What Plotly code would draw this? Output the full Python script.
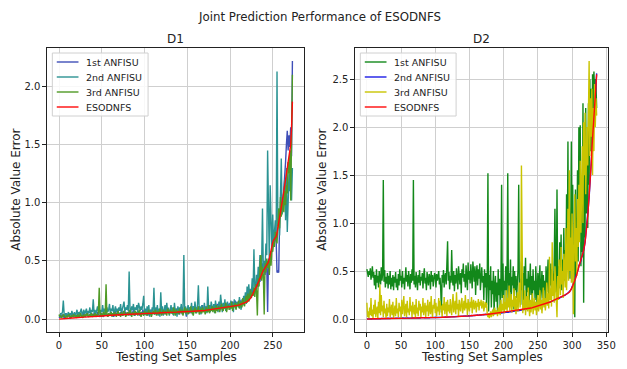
import plotly.graph_objects as go

# ---------------- D1 data (samples 0..273) ----------------
d1_anfisu1 = [
0.02,0.01,0.03,0.02,0.04,0.03,0.01,0.02,0.05,0.03,
0.02,0.04,0.03,0.01,0.02,0.03,0.05,0.02,0.03,0.04,
0.02,0.03,0.05,0.03,0.02,0.04,0.03,0.02,0.05,0.04,
0.03,0.02,0.04,0.06,0.03,0.02,0.04,0.03,0.05,0.02,
0.03,0.05,0.04,0.02,0.03,0.06,0.04,0.03,0.02,0.04,
0.05,0.03,0.02,0.04,0.06,0.03,0.04,0.02,0.05,0.03,
0.04,0.06,0.03,0.05,0.02,0.04,0.07,0.03,0.05,0.04,
0.03,0.05,0.06,0.04,0.03,0.07,0.05,0.04,0.06,0.03,
0.05,0.04,0.07,0.03,0.06,0.04,0.05,0.08,0.04,0.03,
0.06,0.05,0.04,0.07,0.03,0.05,0.06,0.04,0.08,0.05,
0.04,0.06,0.05,0.07,0.03,0.06,0.05,0.08,0.04,0.06,
0.05,0.07,0.04,0.06,0.09,0.05,0.04,0.07,0.06,0.05,
0.08,0.04,0.06,0.05,0.07,0.04,0.09,0.06,0.05,0.07,
0.06,0.10,0.05,0.07,0.04,0.08,0.06,0.09,0.05,0.07,
0.06,0.04,0.08,0.07,0.10,0.05,0.06,0.09,0.07,0.02,
0.08,0.06,0.10,0.05,0.07,0.09,0.06,0.11,0.07,0.08,
0.06,0.10,0.08,0.07,0.11,0.06,0.09,0.08,0.12,0.07,
0.09,0.08,0.11,0.07,0.10,0.09,0.12,0.08,0.10,0.11,
0.09,0.12,0.08,0.11,0.10,0.13,0.09,0.12,0.10,0.11,
0.13,0.09,0.11,0.12,0.10,0.14,0.11,0.12,0.13,0.10,
0.14,0.12,0.11,0.15,0.13,0.12,0.16,0.11,0.14,0.13,
0.15,0.12,0.16,0.14,0.13,0.17,0.15,0.19,0.14,0.18,
0.17,0.20,0.16,0.22,0.19,0.25,0.21,0.27,0.24,0.22,
0.30,0.26,0.33,0.28,0.36,0.32,0.40,0.35,0.48,0.42,
0.45,0.38,0.50,0.46,0.06,0.52,0.47,0.58,0.55,0.62,
0.64,0.70,0.66,0.72,0.68,0.40,0.41,0.40,0.85,0.90,
0.95,1.05,1.00,1.12,1.20,1.35,1.50,1.62,1.45,1.58,
1.48,1.65,1.40,2.22]

d1_anfisu2 = [
0.03,0.02,0.05,0.04,0.06,0.16,0.04,0.02,0.05,0.03,
0.04,0.06,0.02,0.05,0.03,0.07,0.04,0.03,0.06,0.02,
0.05,0.08,0.03,0.06,0.04,0.07,0.09,0.03,0.05,0.08,
0.04,0.06,0.09,0.03,0.07,0.05,0.10,0.04,0.08,0.06,
0.17,0.05,0.08,0.04,0.07,0.11,0.06,0.09,0.04,0.08,
0.06,0.12,0.05,0.09,0.07,0.04,0.10,0.06,0.08,0.13,
0.05,0.09,0.07,0.12,0.04,0.08,0.11,0.06,0.09,0.05,
0.10,0.07,0.13,0.05,0.09,0.11,0.15,0.06,0.10,0.08,
0.12,0.07,0.41,0.09,0.06,0.11,0.08,0.13,0.05,0.10,
0.08,0.12,0.06,0.14,0.09,0.07,0.11,0.08,0.13,0.20,
0.04,0.09,0.03,0.11,0.06,0.12,0.02,0.08,0.05,0.10,
0.07,0.27,0.04,0.10,0.06,0.12,0.03,0.09,0.02,0.23,
0.06,0.11,0.03,0.08,0.12,0.05,0.14,0.07,0.10,0.03,
0.08,0.12,0.05,0.10,0.03,0.14,0.07,0.09,0.02,0.11,
0.06,0.10,0.08,0.13,0.04,0.09,0.55,0.06,0.11,0.03,
0.09,0.12,0.05,0.10,0.07,0.14,0.04,0.11,0.06,0.15,
0.08,0.05,0.13,0.29,0.07,0.11,0.04,0.12,0.08,0.06,
0.14,0.07,0.11,0.05,0.28,0.09,0.12,0.06,0.15,0.10,
0.07,0.13,0.05,0.16,0.10,0.12,0.06,0.15,0.09,0.21,
0.11,0.06,0.14,0.09,0.17,0.07,0.12,0.15,0.10,0.13,
0.08,0.16,0.11,0.14,0.06,0.17,0.12,0.09,0.15,0.13,
0.10,0.19,0.14,0.08,0.17,0.12,0.20,0.15,0.23,0.13,
0.28,0.20,0.30,0.18,0.26,0.22,0.35,0.24,0.60,0.28,
0.25,0.38,0.30,0.45,0.33,0.55,0.36,0.48,0.95,0.40,
0.50,0.42,0.65,0.55,1.45,0.60,0.48,1.15,0.70,0.58,
0.90,0.62,0.75,0.85,0.68,2.13,0.80,0.95,0.72,1.05,
1.38,0.90,1.00,1.10,1.20,0.85,1.30,0.75,1.05,1.25,
1.10,1.45,1.02,1.30]

d1_anfisu3 = [
0.04,0.02,0.03,0.01,0.02,0.04,0.03,0.02,0.01,0.03,
0.02,0.03,0.04,0.02,0.01,0.03,0.02,0.04,0.03,0.02,
0.03,0.01,0.04,0.02,0.03,0.05,0.02,0.03,0.01,0.04,
0.02,0.04,0.03,0.05,0.02,0.03,0.04,0.02,0.05,0.03,
0.04,0.02,0.05,0.03,0.04,0.02,0.06,0.27,0.03,0.05,
0.02,0.04,0.06,0.03,0.05,0.30,0.04,0.02,0.05,0.03,
0.04,0.06,0.02,0.05,0.03,0.06,0.04,0.02,0.05,0.07,
0.03,0.05,0.02,0.06,0.04,0.03,0.07,0.05,0.02,0.04,
0.06,0.03,0.05,0.08,0.04,0.02,0.06,0.05,0.03,0.07,
0.04,0.06,0.03,0.05,0.08,0.04,0.02,0.06,0.05,0.03,
0.07,0.04,0.06,0.03,0.05,0.08,0.04,0.06,0.02,0.05,
0.07,0.04,0.06,0.08,0.03,0.05,0.07,0.04,0.09,0.05,
0.03,0.06,0.08,0.04,0.07,0.05,0.03,0.09,0.06,0.04,
0.08,0.05,0.07,0.04,0.10,0.06,0.03,0.08,0.05,0.07,
0.04,0.09,0.06,0.05,0.08,0.03,0.07,0.10,0.05,0.06,
0.09,0.04,0.07,0.06,0.11,0.05,0.08,0.03,0.07,0.10,
0.05,0.08,0.06,0.11,0.04,0.07,0.09,0.05,0.10,0.06,
0.08,0.04,0.10,0.07,0.06,0.12,0.05,0.09,0.07,0.11,
0.06,0.10,0.08,0.05,0.12,0.07,0.09,0.11,0.06,0.10,
0.13,0.08,0.07,0.11,0.09,0.14,0.06,0.10,0.12,0.08,
0.11,0.09,0.15,0.07,0.12,0.10,0.14,0.08,0.13,0.11,
0.16,0.09,0.12,0.15,0.10,0.18,0.13,0.11,0.17,0.20,
0.14,0.22,0.15,0.19,0.25,0.18,0.23,0.20,0.27,0.19,
0.30,0.24,0.03,0.35,0.28,0.42,0.55,0.33,0.45,0.38,
0.04,0.48,0.40,0.52,0.44,0.50,0.38,0.56,0.46,0.60,
0.58,0.66,0.62,0.75,0.70,0.65,0.80,0.95,0.78,1.05,
0.88,0.95,1.02,0.92,1.10,0.98,1.15,1.08,1.35,1.25,
1.45,1.02,1.75,2.10]

d1_esodnfs = [
0.000,0.001,0.002,0.003,0.004,0.005,0.005,0.006,0.006,0.007,
0.007,0.008,0.008,0.009,0.009,0.010,0.010,0.011,0.011,0.012,
0.012,0.013,0.013,0.014,0.014,0.015,0.015,0.016,0.016,0.017,
0.017,0.018,0.018,0.019,0.019,0.020,0.020,0.021,0.021,0.022,
0.022,0.023,0.023,0.024,0.024,0.025,0.025,0.026,0.026,0.027,
0.027,0.028,0.028,0.029,0.029,0.030,0.030,0.031,0.031,0.032,
0.032,0.033,0.033,0.034,0.034,0.035,0.035,0.036,0.036,0.037,
0.037,0.037,0.038,0.038,0.039,0.039,0.040,0.040,0.040,0.041,
0.041,0.041,0.042,0.042,0.042,0.043,0.043,0.043,0.044,0.044,
0.044,0.045,0.045,0.045,0.046,0.046,0.046,0.047,0.047,0.047,
0.048,0.048,0.048,0.049,0.049,0.049,0.050,0.050,0.050,0.051,
0.051,0.051,0.052,0.052,0.052,0.053,0.053,0.053,0.054,0.054,
0.054,0.055,0.055,0.055,0.056,0.056,0.056,0.057,0.057,0.057,
0.058,0.058,0.058,0.059,0.059,0.059,0.060,0.060,0.060,0.061,
0.061,0.061,0.062,0.062,0.062,0.063,0.063,0.063,0.064,0.064,
0.064,0.065,0.065,0.066,0.066,0.067,0.067,0.068,0.068,0.069,
0.069,0.070,0.070,0.071,0.071,0.072,0.072,0.073,0.073,0.074,
0.074,0.075,0.076,0.076,0.077,0.078,0.079,0.080,0.081,0.082,
0.083,0.084,0.085,0.086,0.087,0.088,0.089,0.090,0.091,0.092,
0.093,0.094,0.095,0.096,0.097,0.098,0.099,0.100,0.102,0.104,
0.106,0.108,0.110,0.111,0.112,0.113,0.114,0.115,0.116,0.118,
0.120,0.122,0.124,0.126,0.128,0.130,0.133,0.136,0.140,0.145,
0.150,0.155,0.160,0.170,0.180,0.190,0.200,0.220,0.240,0.250,
0.260,0.280,0.300,0.310,0.330,0.350,0.370,0.390,0.410,0.420,
0.430,0.440,0.450,0.460,0.470,0.490,0.520,0.560,0.600,0.630,
0.660,0.680,0.690,0.700,0.710,0.740,0.780,0.820,0.860,0.900,
0.950,1.000,1.050,1.100,1.150,1.200,1.260,1.300,1.340,1.380,
1.420,1.500,1.650,1.870]

# ---------------- D2 data (samples 0..336) ----------------
d2_anfisu1 = [
0.52,0.48,0.44,0.50,0.46,0.53,0.41,0.47,0.55,0.43,
0.49,0.35,0.46,0.31,0.52,0.38,0.45,0.33,0.50,0.42,
0.36,0.54,0.40,0.47,1.45,0.39,0.51,0.33,0.44,0.37,
0.48,0.32,0.45,0.36,0.50,0.31,0.43,0.34,0.46,0.30,
0.44,0.38,0.49,0.33,0.42,0.30,0.47,0.35,0.52,0.40,
0.45,0.33,0.50,0.37,0.43,0.31,0.48,0.54,0.39,0.46,
0.34,0.50,0.42,0.31,0.47,0.38,0.52,0.40,1.45,0.36,
0.45,0.33,0.49,0.41,0.30,0.46,0.38,0.51,0.35,0.44,
0.40,0.48,0.32,0.45,0.53,0.37,0.43,0.30,0.49,0.41,
0.35,0.47,0.44,0.31,0.50,0.39,0.46,0.34,0.42,0.48,
0.45,0.33,0.47,0.40,0.44,0.50,0.36,0.43,0.30,0.07,
0.46,0.38,0.51,0.33,0.44,0.48,0.36,0.55,0.81,0.40,
0.49,0.31,0.45,0.38,0.72,0.42,0.35,0.50,0.29,0.46,
0.37,0.53,0.40,0.31,0.55,0.44,0.36,0.48,0.27,0.52,
0.43,0.58,0.39,0.47,0.33,0.56,0.45,0.30,0.59,0.41,
0.50,0.37,0.57,0.44,0.32,0.60,0.46,0.39,0.55,0.25,
0.48,0.56,0.35,0.52,0.42,0.58,0.30,0.47,0.54,0.38,
0.45,0.20,0.52,0.33,0.48,0.15,0.41,1.52,0.08,0.46,
0.30,0.55,0.12,0.40,0.26,0.50,0.05,0.35,0.45,0.18,
0.38,0.08,0.52,0.25,0.42,0.10,0.33,1.40,0.22,0.58,
0.15,0.40,0.30,0.55,0.12,0.45,1.52,0.20,0.48,0.28,
0.62,0.18,0.44,0.35,0.55,0.10,0.50,0.30,0.45,0.22,
0.38,0.52,1.40,0.25,0.42,0.15,0.60,0.30,0.48,0.20,
0.55,0.35,0.64,0.18,0.42,0.28,0.50,0.12,0.38,0.58,
0.25,0.45,0.15,0.52,0.30,0.40,0.20,0.55,0.32,0.10,
0.48,0.25,0.42,0.56,0.18,0.35,0.50,0.22,0.46,0.30,
0.40,0.15,0.55,0.28,0.44,0.62,0.20,0.48,0.35,0.58,
0.25,0.52,0.40,0.30,0.65,1.15,0.45,0.28,1.35,0.38,
0.55,0.32,0.80,0.45,0.88,0.30,0.62,0.50,0.95,0.40,
0.72,0.35,1.30,0.55,1.85,0.60,1.20,0.42,0.90,1.85,
0.50,1.40,0.38,0.80,0.02,1.35,0.45,0.70,1.55,0.60,
2.00,0.90,2.02,0.55,1.45,0.70,2.25,0.17,1.60,0.85,
2.20,1.10,1.80,0.95,2.25,1.40,2.50,1.75,2.40,1.60,
2.55,2.20,2.58,2.35,2.50,2.45,2.20]

d2_anfisu2 = [
0.002,0.001,0.003,0.001,0.004,0.002,0.003,0.001,0.004,0.003,
0.004,0.002,0.005,0.003,0.005,0.003,0.006,0.004,0.005,0.006,
0.004,0.006,0.005,0.007,0.005,0.006,0.008,0.005,0.007,0.006,
0.008,0.006,0.007,0.009,0.006,0.008,0.007,0.009,0.007,0.008,
0.009,0.007,0.010,0.008,0.009,0.007,0.010,0.008,0.009,0.011,
0.008,0.010,0.009,0.011,0.008,0.010,0.012,0.009,0.011,0.010,
0.012,0.009,0.011,0.013,0.010,0.012,0.011,0.013,0.010,0.012,
0.013,0.011,0.014,0.012,0.013,0.011,0.014,0.013,0.012,0.015,
0.013,0.014,0.012,0.015,0.014,0.013,0.016,0.014,0.015,0.013,
0.016,0.015,0.014,0.017,0.015,0.016,0.014,0.017,0.016,0.018,
0.016,0.017,0.019,0.017,0.018,0.016,0.019,0.018,0.020,0.017,
0.020,0.019,0.018,0.021,0.019,0.022,0.020,0.021,0.023,0.021,
0.023,0.021,0.024,0.022,0.025,0.023,0.024,0.026,0.024,0.025,
0.027,0.025,0.028,0.026,0.027,0.029,0.027,0.030,0.028,0.031,
0.029,0.031,0.030,0.032,0.031,0.033,0.031,0.034,0.032,0.035,
0.033,0.036,0.034,0.037,0.035,0.038,0.036,0.039,0.037,0.040,
0.041,0.039,0.042,0.040,0.043,0.042,0.044,0.043,0.046,0.044,
0.047,0.045,0.048,0.047,0.050,0.048,0.051,0.049,0.052,0.051,
0.053,0.052,0.055,0.053,0.056,0.055,0.058,0.056,0.059,0.058,
0.061,0.059,0.062,0.061,0.064,0.062,0.065,0.064,0.067,0.066,
0.068,0.067,0.070,0.069,0.072,0.071,0.074,0.072,0.076,0.075,
0.078,0.077,0.080,0.079,0.082,0.081,0.084,0.083,0.086,0.085,
0.088,0.087,0.090,0.089,0.093,0.091,0.095,0.094,0.097,0.096,
0.100,0.099,0.103,0.102,0.106,0.105,0.109,0.108,0.112,0.114,
0.116,0.115,0.120,0.119,0.124,0.123,0.128,0.127,0.132,0.131,
0.136,0.135,0.140,0.139,0.144,0.143,0.148,0.147,0.152,0.151,
0.156,0.157,0.162,0.161,0.168,0.167,0.174,0.173,0.180,0.179,
0.186,0.185,0.192,0.191,0.198,0.197,0.204,0.203,0.210,0.209,
0.216,0.215,0.222,0.223,0.230,0.229,0.238,0.237,0.246,0.245,
0.254,0.255,0.262,0.264,0.271,0.274,0.282,0.288,0.302,0.313,
0.333,0.343,0.363,0.378,0.403,0.418,0.443,0.458,0.493,0.518,
0.553,0.568,0.593,0.608,0.643,0.658,0.693,0.718,0.753,0.798,
0.863,0.918,1.003,1.078,1.183,1.268,1.383,1.498,1.623,1.768,
1.903,2.028,2.163,2.278,2.403,2.508,2.560]

d2_anfisu3 = [
0.17,0.02,0.08,0.01,0.12,0.04,0.22,0.03,0.10,0.01,
0.15,0.05,0.20,0.02,0.09,0.13,0.01,0.18,0.06,0.36,
0.04,0.25,0.08,0.14,0.02,0.19,0.06,0.11,0.01,0.16,
0.03,0.12,0.07,0.21,0.02,0.10,0.15,0.04,0.18,0.01,
0.09,0.14,0.03,0.22,0.06,0.11,0.02,0.17,0.08,0.13,
0.01,0.20,0.05,0.12,0.24,0.03,0.09,0.16,0.02,0.19,
0.07,0.11,0.04,0.23,0.08,0.14,0.02,0.18,0.10,0.05,
0.15,0.01,0.21,0.06,0.12,0.03,0.19,0.09,0.16,0.02,
0.13,0.07,0.22,0.04,0.10,0.17,0.02,0.14,0.08,0.20,
0.03,0.12,0.18,0.05,0.24,0.09,0.02,0.15,0.11,0.21,
0.06,0.17,0.03,0.13,0.08,0.22,0.04,0.19,0.10,0.14,
0.02,0.16,0.09,0.23,0.05,0.12,0.18,0.03,0.20,0.08,
0.15,0.06,0.21,0.11,0.04,0.17,0.26,0.07,0.13,0.19,
0.05,0.28,0.10,0.16,0.03,0.20,0.12,0.08,0.18,0.22,
0.06,0.14,0.19,0.09,0.25,0.11,0.17,0.04,0.21,0.13,
0.08,0.18,0.12,0.23,0.06,0.16,0.20,0.10,0.15,0.19,
0.07,0.17,0.13,0.21,0.09,0.18,0.14,0.20,0.11,0.16,
0.19,0.08,0.15,0.18,0.12,0.17,0.05,0.02,0.06,0.01,
0.04,0.08,0.02,0.06,0.10,0.03,0.07,0.12,0.05,0.09,
0.08,0.03,0.12,0.05,0.15,0.04,0.20,0.07,0.16,0.09,
0.25,0.06,0.18,0.10,0.30,0.08,0.22,0.12,0.35,0.09,
0.17,0.26,0.07,0.20,0.13,0.32,0.10,0.24,0.05,0.18,
0.28,0.08,0.21,0.38,0.12,0.25,1.60,0.15,0.06,0.20,
0.10,0.30,0.04,0.18,0.24,0.08,0.33,0.13,0.03,0.20,
0.07,0.16,0.27,0.05,0.12,0.22,0.09,0.18,0.04,0.15,
0.25,0.08,0.14,0.30,0.10,0.20,0.06,0.17,0.33,0.12,
0.22,0.09,0.18,0.38,0.14,0.27,0.11,0.65,0.20,0.32,
0.13,0.80,0.24,0.40,0.17,0.55,0.28,0.15,0.02,0.45,
0.20,0.62,0.30,0.25,0.75,0.36,0.50,0.22,0.68,0.42,
0.33,0.95,0.30,0.58,1.15,0.40,1.55,0.50,0.85,0.38,
1.10,0.70,0.05,0.85,1.30,0.60,0.95,0.45,1.25,0.75,
1.40,0.80,1.65,0.90,1.20,1.80,1.00,2.05,1.50,2.15,
1.30,1.85,2.00,1.60,2.20,2.69,1.70,2.30,1.90,2.40,
1.50,2.20,1.75,2.45,2.00,2.30,2.12]

d2_esodnfs = [
0.000,0.001,0.001,0.001,0.002,0.002,0.002,0.002,0.003,0.003,
0.003,0.003,0.003,0.004,0.004,0.004,0.004,0.004,0.004,0.005,
0.005,0.005,0.005,0.005,0.005,0.005,0.006,0.006,0.006,0.006,
0.006,0.006,0.006,0.007,0.007,0.007,0.007,0.007,0.007,0.007,
0.007,0.008,0.008,0.008,0.008,0.008,0.008,0.008,0.008,0.008,
0.009,0.009,0.009,0.009,0.009,0.009,0.009,0.009,0.010,0.010,
0.010,0.010,0.010,0.010,0.010,0.010,0.011,0.011,0.011,0.011,
0.011,0.011,0.011,0.011,0.012,0.012,0.012,0.012,0.012,0.012,
0.012,0.013,0.013,0.013,0.013,0.013,0.013,0.014,0.014,0.014,
0.014,0.014,0.014,0.015,0.015,0.015,0.015,0.015,0.016,0.016,
0.016,0.016,0.017,0.017,0.017,0.017,0.018,0.018,0.018,0.018,
0.019,0.019,0.019,0.020,0.020,0.020,0.021,0.021,0.021,0.022,
0.022,0.022,0.023,0.023,0.023,0.024,0.024,0.024,0.025,0.025,
0.025,0.026,0.026,0.027,0.027,0.027,0.028,0.028,0.029,0.029,
0.029,0.030,0.030,0.031,0.031,0.032,0.032,0.033,0.033,0.034,
0.034,0.035,0.035,0.036,0.036,0.037,0.037,0.038,0.038,0.039,
0.040,0.040,0.041,0.041,0.042,0.043,0.043,0.044,0.044,0.045,
0.046,0.046,0.047,0.048,0.048,0.049,0.050,0.050,0.051,0.052,
0.052,0.053,0.054,0.054,0.055,0.056,0.057,0.057,0.058,0.059,
0.060,0.060,0.061,0.062,0.063,0.063,0.064,0.065,0.066,0.067,
0.067,0.068,0.069,0.070,0.071,0.072,0.073,0.074,0.075,0.076,
0.077,0.078,0.079,0.080,0.081,0.082,0.083,0.084,0.085,0.086,
0.087,0.088,0.089,0.090,0.091,0.092,0.094,0.095,0.096,0.098,
0.099,0.100,0.102,0.103,0.105,0.106,0.108,0.110,0.111,0.113,
0.115,0.117,0.119,0.121,0.123,0.125,0.127,0.129,0.131,0.133,
0.135,0.137,0.139,0.141,0.143,0.145,0.147,0.149,0.151,0.153,
0.155,0.158,0.160,0.163,0.166,0.169,0.172,0.175,0.178,0.181,
0.184,0.187,0.190,0.193,0.196,0.199,0.202,0.205,0.208,0.211,
0.214,0.217,0.220,0.224,0.228,0.232,0.236,0.240,0.244,0.248,
0.252,0.256,0.260,0.265,0.270,0.275,0.280,0.290,0.300,0.315,
0.330,0.345,0.360,0.380,0.400,0.420,0.440,0.460,0.490,0.520,
0.550,0.570,0.590,0.610,0.640,0.660,0.690,0.720,0.750,0.800,
0.860,0.920,1.000,1.080,1.180,1.270,1.380,1.500,1.620,1.770,
1.900,2.030,2.160,2.280,2.400,2.510,2.550]

series_names = ["1st ANFISU", "2nd ANFISU", "3rd ANFISU", "ESODNFS"]
d1_colors = ["#3f4fb8", "#2b9393", "#4f9a25", "#ff0a0a"]
d2_colors = ["#12881a", "#1a1ae6", "#c9c400", "#ff0a0a"]
d1_xticks = [0, 50, 100, 150, 200, 250]
d2_xticks = [0, 50, 100, 150, 200, 250, 300, 350]
d1_yticks = [0.0, 0.5, 1.0, 1.5, 2.0]
d2_yticks = [0.0, 0.5, 1.0, 1.5, 2.0, 2.5]

W, H = 627, 369
FONT = "DejaVu Sans"
LW = 1.4

fig = go.Figure()

d1_series = [d1_anfisu1, d1_anfisu2, d1_anfisu3, d1_esodnfs]
d2_series = [d2_anfisu1, d2_anfisu2, d2_anfisu3, d2_esodnfs]

for name, ys, col in zip(series_names, d1_series, d1_colors):
    fig.add_trace(go.Scatter(x=list(range(len(ys))), y=ys, mode="lines", name=name,
                             line=dict(color=col, width=LW), xaxis="x", yaxis="y",
                             showlegend=False))
for name, ys, col in zip(series_names, d2_series, d2_colors):
    fig.add_trace(go.Scatter(x=list(range(len(ys))), y=ys, mode="lines", name=name,
                             line=dict(color=col, width=LW), xaxis="x2", yaxis="y2",
                             showlegend=False))

def px_x(p):
    return p / W

def px_y(p):
    return 1 - p / H

ax_common = dict(showline=True, linecolor="#222", linewidth=1, mirror=True,
                 ticks="outside", ticklen=4, tickcolor="#222", tickwidth=1,
                 showgrid=True, gridcolor="#cfcfcf", gridwidth=1, zeroline=False,
                 tickfont=dict(family=FONT, size=10, color="#222"))

n1 = len(d1_esodnfs)
n2 = len(d2_esodnfs)
y1max = max(max(s) for s in d1_series)
y2max = max(max(s) for s in d2_series)

fig.update_layout(
    width=W, height=H, margin=dict(l=0, r=0, t=0, b=0),
    paper_bgcolor="white", plot_bgcolor="white",
    font=dict(family=FONT, color="#222"),
    showlegend=False,
    xaxis=dict(domain=[px_x(48), px_x(308)], anchor="y",
               range=[-0.05 * (n1 - 1), (n1 - 1) * 1.05],
               tickvals=d1_xticks, **ax_common),
    yaxis=dict(domain=[px_y(332), px_y(48)], anchor="x",
               range=[-0.05 * y1max, y1max * 1.05],
               tickvals=d1_yticks, tickformat=".1f", **ax_common),
    xaxis2=dict(domain=[px_x(360), px_x(616)], anchor="y2",
                range=[-0.05 * (n2 - 1), (n2 - 1) * 1.05],
                tickvals=d2_xticks, **ax_common),
    yaxis2=dict(domain=[px_y(332), px_y(48)], anchor="x2",
                range=[-0.05 * y2max, y2max * 1.05],
                tickvals=d2_yticks, tickformat=".1f", **ax_common),
)

# legend boxes (matplotlib-style, compact)
def draw_legend(x0, x1, y0, y1, line_x0, line_x1, text_x, rows, names, colors):
    fig.add_shape(type="rect", xref="paper", yref="paper",
                  x0=px_x(x0), x1=px_x(x1), y0=px_y(y1), y1=px_y(y0),
                  line=dict(color="#d0d0d0", width=1),
                  fillcolor="rgba(255,255,255,0.85)", layer="above")
    for ry, nm, col in zip(rows, names, colors):
        fig.add_shape(type="line", xref="paper", yref="paper",
                      x0=px_x(line_x0), x1=px_x(line_x1), y0=px_y(ry), y1=px_y(ry),
                      line=dict(color=col, width=LW), layer="above")
        fig.add_annotation(text=nm, x=px_x(text_x), y=px_y(ry), xref="paper", yref="paper",
                           xanchor="left", yanchor="middle", showarrow=False,
                           font=dict(family=FONT, size=9.5, color="#222"))

legend_rows = [62, 77, 92, 107]
draw_legend(53, 150, 53, 116, 57.5, 79.5, 85.5, legend_rows, series_names, d1_colors)
draw_legend(365, 462, 53, 116, 369.5, 391.5, 397.5, legend_rows, series_names, d2_colors)

ann = [
    dict(text="Joint Prediction Performance of ESODNFS", x=px_x(324), y=px_y(17), size=11.8, angle=0),
    dict(text="D1", x=px_x(178), y=px_y(39), size=12, angle=0),
    dict(text="D2", x=px_x(488), y=px_y(39), size=12, angle=0),
    dict(text="Testing Set Samples", x=px_x(178), y=px_y(357), size=12, angle=0),
    dict(text="Testing Set Samples", x=px_x(488), y=px_y(357), size=12, angle=0),
    dict(text="Absolute Value Error", x=px_x(16), y=px_y(190), size=12, angle=-90),
    dict(text="Absolute Value Error", x=px_x(326), y=px_y(190), size=12, angle=-90),
]
for a in ann:
    fig.add_annotation(text=a["text"], x=a["x"], y=a["y"], xref="paper", yref="paper",
                       xanchor="center", yanchor="middle", showarrow=False,
                       textangle=a["angle"],
                       font=dict(family=FONT, size=a["size"], color="#222"))

fig.write_html("out.html")
